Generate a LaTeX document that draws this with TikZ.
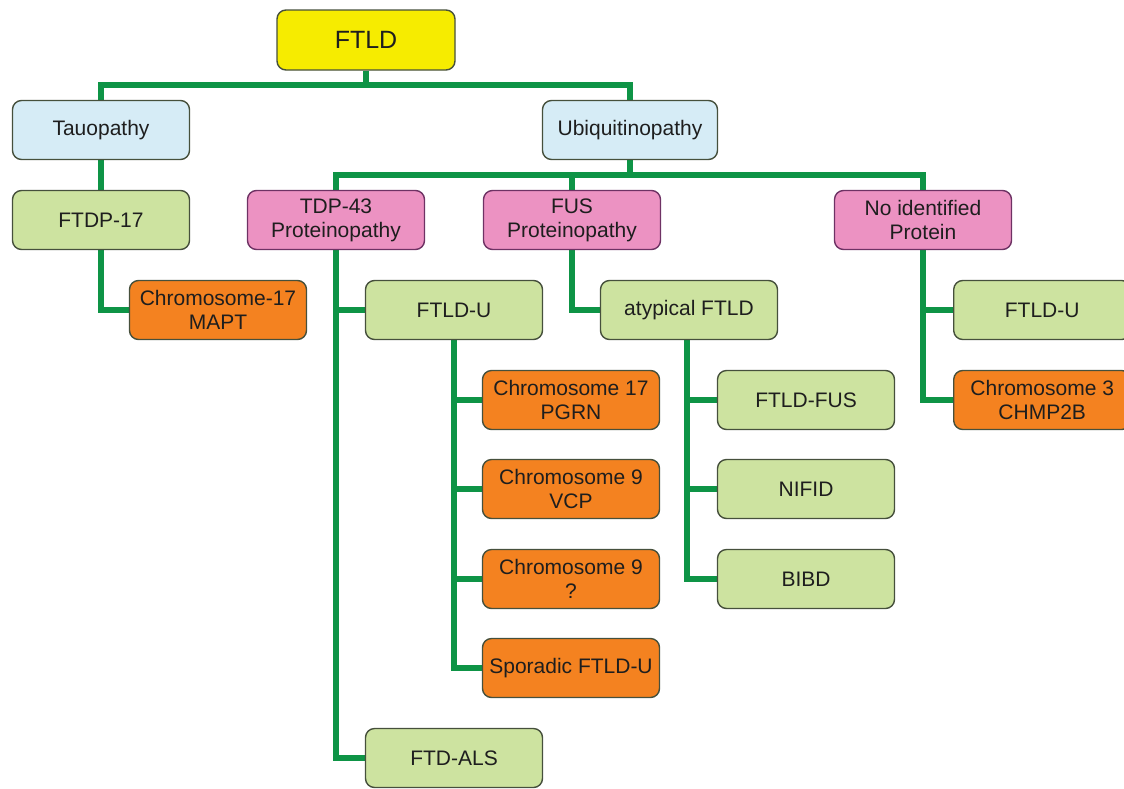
\documentclass[tikz,border=0pt]{standalone}
\usepackage{fontspec}
\setmainfont{Liberation Sans}
\usetikzlibrary{backgrounds}
\definecolor{conncol}{RGB}{14,148,70}
\definecolor{yelfill}{RGB}{246,236,0}
\definecolor{bluefill}{RGB}{214,236,246}
\definecolor{greenfill}{RGB}{205,227,160}
\definecolor{pinkfill}{RGB}{236,146,194}
\definecolor{orangefill}{RGB}{244,130,32}
\definecolor{bordercol}{RGB}{70,80,60}
\definecolor{pinkborder}{RGB}{110,50,100}
\definecolor{txtcol}{RGB}{30,30,30}
\tikzset{
  box/.style={draw=bordercol, line width=1.4pt, rounded corners=9pt,
    minimum width=177pt, minimum height=59pt, inner sep=2pt, align=center,
    text=txtcol, font=\fontsize{21}{24}\selectfont},
  yelbox/.style={box, fill=yelfill},
  bluebox/.style={box, fill=bluefill},
  greenbox/.style={box, fill=greenfill},
  pinkbox/.style={box, fill=pinkfill, draw=pinkborder},
  orangebox/.style={box, fill=orangefill},
  conn/.style={draw=conncol, line width=6pt, line join=miter}
}
\begin{document}
\begin{tikzpicture}[x=1pt,y=-1pt]
\useasboundingbox (0,0) rectangle (1124,788);
\node[yelbox, minimum width=178pt, minimum height=60pt, font=\fontsize{25}{30}\selectfont] (ftld) at (366,40) {FTLD};
\node[bluebox] (tau) at (101,130) {Tauopathy};
\node[bluebox, minimum width=175pt] (ubi) at (630,130) {Ubiquitinopathy};
\node[greenbox] (ftdp) at (101,220) {FTDP-17};
\node[pinkbox] (tdp) at (336,220) {TDP-43\\Proteinopathy};
\node[pinkbox] (fus) at (572,220) {FUS\\Proteinopathy};
\node[pinkbox] (noid) at (923,220) {No identified\\Protein};
\node[orangebox] (mapt) at (218,310) {Chromosome-17\\MAPT};
\node[greenbox] (ftldu) at (454,310) {FTLD-U};
\node[greenbox] (atyp) at (689,310) {atypical FTLD};
\node[greenbox, anchor=west] (ftldur) at (953,310) {FTLD-U};
\node[orangebox, anchor=west] (chmp) at (953,400) {Chromosome 3\\CHMP2B};
\node[orangebox] (pgrn) at (571,400) {Chromosome 17\\PGRN};
\node[orangebox] (vcp) at (571,489) {Chromosome 9\\VCP};
\node[orangebox] (chq) at (571,579) {Chromosome 9\\?};
\node[orangebox] (spor) at (571,668) {Sporadic FTLD-U};
\node[greenbox] (ftlfus) at (806,400) {FTLD-FUS};
\node[greenbox] (nifid) at (806,489) {NIFID};
\node[greenbox] (bibd) at (806,579) {BIBD};
\node[greenbox] (ftdals) at (454,758) {FTD-ALS};
\begin{scope}[on background layer]
\draw[conn] (tau.north) |- ++(0,-15) coordinate (b1) -| (ubi.north);
\draw[conn] (ftld.south) -- (ftld.south |- b1);
\draw[conn] (tau.south) -- (ftdp.north);
\draw[conn] (ftdp.south) |- (mapt.west);
\draw[conn] (tdp.north) |- ++(0,-15) coordinate (b2) -| (noid.north);
\draw[conn] (ubi.south) -- (ubi.south |- b2);
\draw[conn] (fus.north) -- (fus.north |- b2);
\draw[conn] (tdp.south) |- (ftdals.west);
\draw[conn] (tdp.south |- ftldu.west) -- (ftldu.west);
\draw[conn] (ftldu.south) |- (spor.west);
\draw[conn] (ftldu.south |- pgrn.west) -- (pgrn.west);
\draw[conn] (ftldu.south |- vcp.west) -- (vcp.west);
\draw[conn] (ftldu.south |- chq.west) -- (chq.west);
\draw[conn] (fus.south) |- (atyp.west);
\draw[conn] ([xshift=-2pt]atyp.south) |- (bibd.west);
\draw[conn] ([xshift=-2pt]atyp.south |- ftlfus.west) -- (ftlfus.west);
\draw[conn] ([xshift=-2pt]atyp.south |- nifid.west) -- (nifid.west);
\draw[conn] (noid.south) |- (chmp.west);
\draw[conn] (noid.south |- ftldur.west) -- (ftldur.west);
\end{scope}
\end{tikzpicture}
\end{document}
